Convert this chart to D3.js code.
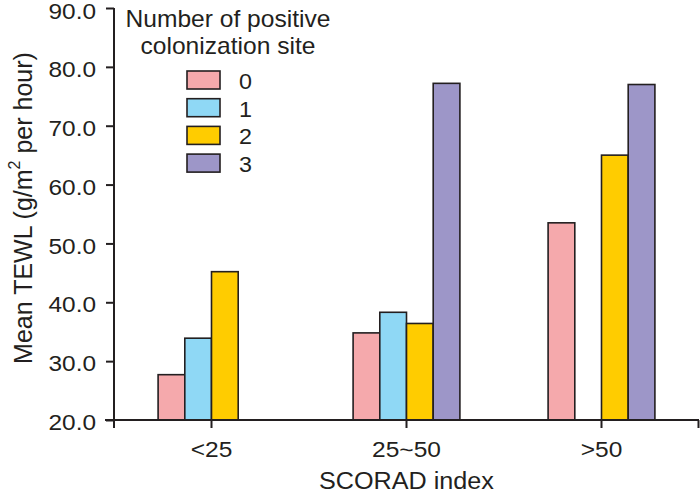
<!DOCTYPE html>
<html><head><meta charset="utf-8">
<script src="https://cdn.jsdelivr.net/npm/d3@7"></script>
<style>body{margin:0;background:#fff}svg{display:block}text{font-family:"Liberation Sans",Arial,sans-serif;fill:#231f20}</style>
</head><body><svg id="c" width="700" height="495"></svg>
<script>
const categories = ["<25", "25~50", ">50"];
const seriesNames = ["0", "1", "2", "3"];
const values0 = [27.7, 34.8, 53.5];
const values1 = [33.9, 38.3, null];
const values2 = [45.2, 36.4, 65.0];
const values3 = [null, 77.2, 77.0];
const yTicks = [20, 30, 40, 50, 60, 70, 80, 90];
const colors = ["#f5a9ac", "#8fd8f5", "#ffcc00", "#9d96c8"];
const legendTitle = ["Number of positive", "colonization site"];
const xTitle = "SCORAD index";

const series = [values0, values1, values2, values3];
const svg = d3.select("#c");
const ink = "#231f20";
const FF = '"Liberation Sans",Arial,sans-serif';

// horizontal stretch of text around its anchor point
function stretch(sel, s) {
  sel.each(function () {
    const t = d3.select(this);
    const tx = +t.attr("x") || 0;
    const prev = t.attr("transform") || "";
    t.attr("transform", prev + ` translate(${tx},0) scale(${s},1) translate(${-tx},0)`);
  });
}

const x0 = d3.scaleBand().domain(categories).range([114, 699]).padding(0);
const groupW = 106.8;
const x1 = d3.scaleBand().domain(seriesNames)
  .range([(x0.bandwidth() - groupW) / 2, (x0.bandwidth() + groupW) / 2]).padding(0);
const y = d3.scaleLinear().domain([20, 90]).range([420, 8]);

// bars
categories.forEach((c, ci) => {
  seriesNames.forEach((s, si) => {
    const v = series[si][ci];
    if (v == null) return;
    svg.append("rect")
      .attr("x", x0(c) + x1(s))
      .attr("y", y(v))
      .attr("width", x1.bandwidth())
      .attr("height", y(20) - y(v))
      .attr("fill", colors[si])
      .attr("stroke", ink).attr("stroke-width", 1.6);
  });
});

// y axis
const yAxis = d3.axisLeft(y).tickValues(yTicks).tickFormat(d3.format(".1f"))
  .tickSize(8).tickSizeOuter(0).tickPadding(10);
const gy = svg.append("g").attr("transform", "translate(114,0)").call(yAxis);
gy.select(".domain").remove();
gy.append("line").attr("x1", 0).attr("x2", 0).attr("y1", 8).attr("y2", 428)
  .attr("stroke", ink).attr("stroke-width", 2);
gy.selectAll(".tick line").attr("stroke", ink).attr("stroke-width", 2);
gy.selectAll(".tick text").attr("font-size", 21.8).attr("fill", ink)
  .attr("dy", d => d === 90 ? "0.5em" : "0.44em").style("font-family", FF).call(stretch, 1.12);

// x axis
const xAxis = d3.axisBottom(x0).tickSize(8).tickSizeOuter(0).tickPadding(13);
const gx = svg.append("g").attr("transform", "translate(0,420)").call(xAxis);
gx.select(".domain").remove();
gx.append("line").attr("x1", 105).attr("x2", 699).attr("y1", 0).attr("y2", 0)
  .attr("stroke", ink).attr("stroke-width", 2);
gx.append("line").attr("x1", 698.5).attr("x2", 698.5).attr("y1", 0).attr("y2", 8)
  .attr("stroke", ink).attr("stroke-width", 2);
gx.selectAll(".tick line").attr("stroke", ink).attr("stroke-width", 2);
gx.selectAll(".tick text").attr("font-size", 22.3).attr("fill", ink)
  .style("font-family", FF).call(stretch, 1.1);

// axis titles
svg.append("text").attr("x", x0("25~50") + x0.bandwidth() / 2).attr("y", 489)
  .attr("text-anchor", "middle").attr("font-size", 24).text(xTitle).call(stretch, 1.05);
const yt = svg.append("text").attr("transform", "translate(32,208) rotate(-90)")
  .attr("text-anchor", "middle").attr("font-size", 25);
yt.append("tspan").text("Mean TEWL (g/m");
yt.append("tspan").attr("dy", -12).attr("font-size", 16).text("2");
yt.append("tspan").attr("dy", 12).text(" per hour)");

// legend
legendTitle.forEach((t, i) => {
  svg.append("text").attr("x", 228).attr("y", 27 + i * 27).attr("text-anchor", "middle")
    .attr("font-size", 23).text(t).call(stretch, 1.07);
});
seriesNames.forEach((s, i) => {
  const yy = 71 + i * 27.7;
  svg.append("rect").attr("x", 187).attr("y", yy).attr("width", 33).attr("height", 18)
    .attr("fill", colors[i]).attr("stroke", ink).attr("stroke-width", 1.6);
  svg.append("text").attr("x", 239).attr("y", yy + 18).attr("font-size", 21.4).text(s)
    .call(stretch, 1.09);
});
</script></body></html>
